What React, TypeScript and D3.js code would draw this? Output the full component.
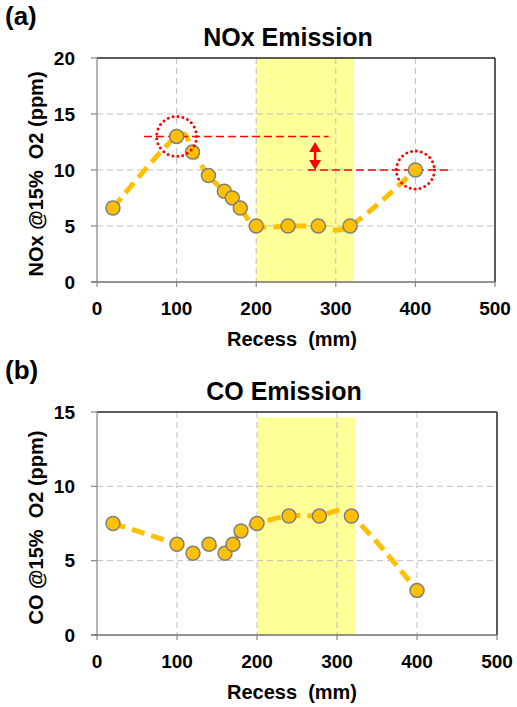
import React from 'react';
import * as d3 from 'd3';

// recess positions (mm), shared by both panels
const recess = [20, 100, 120, 140, 160, 170, 180, 200, 240, 278, 318, 400];
const noxValues = [6.6, 13.0, 11.6, 9.5, 8.1, 7.5, 6.6, 5.0, 5.0, 5.0, 5.0, 10.0];
const coValues = [7.5, 6.1, 5.5, 6.1, 5.5, 6.1, 7.0, 7.5, 8.0, 8.0, 8.0, 3.0];

const xTicks = [0, 100, 200, 300, 400, 500];
const noxTicks = [0, 5, 10, 15, 20];
const coTicks = [0, 5, 10, 15];

// highlighted recess range (yellow band)
const bandRecess = [200, 323];

// red annotations on the NOx panel (data units)
const noxRefLines = [
  { x0: 59, x1: 291, y: 13 },
  { x0: 265, x1: 443, y: 10 },
];
const noxCircles = [
  { x: 100, y: 13, r: 20 },
  { x: 400, y: 10, r: 19 },
];
const noxArrow = { x: 274, y0: 12.5, y1: 10 };

const FONT = "'Liberation Sans', Arial, sans-serif";
const ORANGE = '#FFC000';

type PanelProps = {
  top: number;
  bottom: number;
  right: number;
  yMax: number;
  yTicks: number[];
  values: number[];
  bandTop: number;
  label: string;
  title: string;
  titleX: number;
  yLabel: string;
  annotate?: boolean;
};

function Panel({ top, bottom, right, yMax, yTicks, values, bandTop, label, title, titleX, yLabel, annotate }: PanelProps) {
  const left = 97;
  const x = d3.scaleLinear().domain([0, 500]).range([left, right]);
  const y = d3.scaleLinear().domain([0, yMax]).range([bottom, top]);

  const pts: [number, number][] = recess.map((r, i) => [x(r), y(values[i])]);
  const line = d3.line().curve(d3.curveCardinal.tension(0));

  return (
    <g fontFamily={FONT} fontWeight="bold" fill="#000">
      <text x={5} y={top - 33} fontSize={26}>{label}</text>
      <text x={titleX} y={top - 12} fontSize={25} textAnchor="middle">{title}</text>

      {/* yellow band */}
      <rect x={x(bandRecess[0])} y={y(bandTop)} width={x(bandRecess[1]) - x(bandRecess[0])}
        height={bottom - y(bandTop)} fill="#FFFF99" />

      {/* grid */}
      {yTicks.filter(t => t > 0 && t < yMax).map(t => (
        <line key={'gy' + t} x1={left} x2={right} y1={y(t)} y2={y(t)}
          stroke="#BFBFBF" strokeWidth={1} strokeDasharray="6 4" />
      ))}
      {xTicks.filter(t => t > 0 && t < 500).map(t => (
        <line key={'gx' + t} x1={x(t)} x2={x(t)} y1={top} y2={bottom}
          stroke="#BFBFBF" strokeWidth={1} strokeDasharray="6 4" />
      ))}

      {/* plot border + axes */}
      <line x1={left} x2={right} y1={top} y2={top} stroke="#262626" strokeWidth={1.5} />
      <line x1={right} x2={right} y1={top} y2={bottom} stroke="#262626" strokeWidth={1.5} />
      <line x1={left} x2={left} y1={top} y2={bottom} stroke="#868686" strokeWidth={1.2} />
      <line x1={left - 6} x2={right} y1={bottom} y2={bottom} stroke="#6F6F6F" strokeWidth={1.5} />
      {yTicks.map(t => (
        <line key={'ty' + t} x1={left - 6} x2={left} y1={y(t)} y2={y(t)} stroke="#868686" strokeWidth={1.2} />
      ))}
      {xTicks.map(t => (
        <line key={'tx' + t} x1={x(t)} x2={x(t)} y1={bottom} y2={bottom + 5} stroke="#868686" strokeWidth={1.2} />
      ))}

      {/* tick labels */}
      {yTicks.map(t => (
        <text key={'ly' + t} x={left - 22} y={y(t)} dy="0.35em" fontSize={19} textAnchor="end">{t}</text>
      ))}
      {xTicks.map(t => (
        <text key={'lx' + t} x={x(t)} y={bottom + 33} fontSize={19} textAnchor="middle">{t}</text>
      ))}

      <text x={292} y={bottom + 64} fontSize={20} textAnchor="middle" xmlSpace="preserve">Recess  (mm)</text>
      <text transform={`translate(36,${(top + bottom) / 2 + 4}) rotate(-90)`} fontSize={20}
        textAnchor="middle" dominantBaseline="central" xmlSpace="preserve">{yLabel}</text>

      {/* series */}
      <path d={line(pts) || ''} fill="none" stroke={ORANGE} strokeWidth={5} strokeDasharray="13 7" />

      {annotate && (
        <g>
          {noxRefLines.map((l, i) => (
            <line key={'rl' + i} x1={x(l.x0)} x2={x(l.x1)} y1={y(l.y)} y2={y(l.y)}
              stroke="#FF0000" strokeWidth={1.5} strokeDasharray="8 4" />
          ))}
          <line x1={x(noxArrow.x)} x2={x(noxArrow.x)} y1={y(noxArrow.y0) + 6} y2={y(noxArrow.y1) - 6}
            stroke="#FF0000" strokeWidth={2.5} />
          <path d={`M${x(noxArrow.x)},${y(noxArrow.y0)} l-6,10 h12 z`} fill="#FF0000" />
          <path d={`M${x(noxArrow.x)},${y(noxArrow.y1)} l-6,-10 h12 z`} fill="#FF0000" />
        </g>
      )}

      {pts.map((p, i) => (
        <circle key={'pt' + i} cx={p[0]} cy={p[1]} r={7} fill={ORANGE} stroke="#7F7F7F" strokeWidth={1.5} />
      ))}

      {annotate && noxCircles.map((c, i) => (
        <circle key={'rc' + i} cx={x(c.x)} cy={y(c.y)} r={c.r} fill="none" stroke="#FF0000"
          strokeWidth={3} strokeDasharray="0 5" strokeLinecap="round" />
      ))}
    </g>
  );
}

export default function App() {
  return (
    <svg width={517} height={707} style={{ position: 'absolute', left: 0, top: 0, background: '#fff' }}>
      <Panel top={58} bottom={282} right={495} yMax={20} yTicks={noxTicks} values={noxValues} bandTop={20}
        label="(a)" title="NOx Emission" titleX={288} yLabel="NOx @15%  O2 (ppm)" annotate />
      <Panel top={412} bottom={635} right={497} yMax={15} yTicks={coTicks} values={coValues} bandTop={14.65}
        label="(b)" title="CO Emission" titleX={284} yLabel="CO @15%  O2 (ppm)" />
    </svg>
  );
}
